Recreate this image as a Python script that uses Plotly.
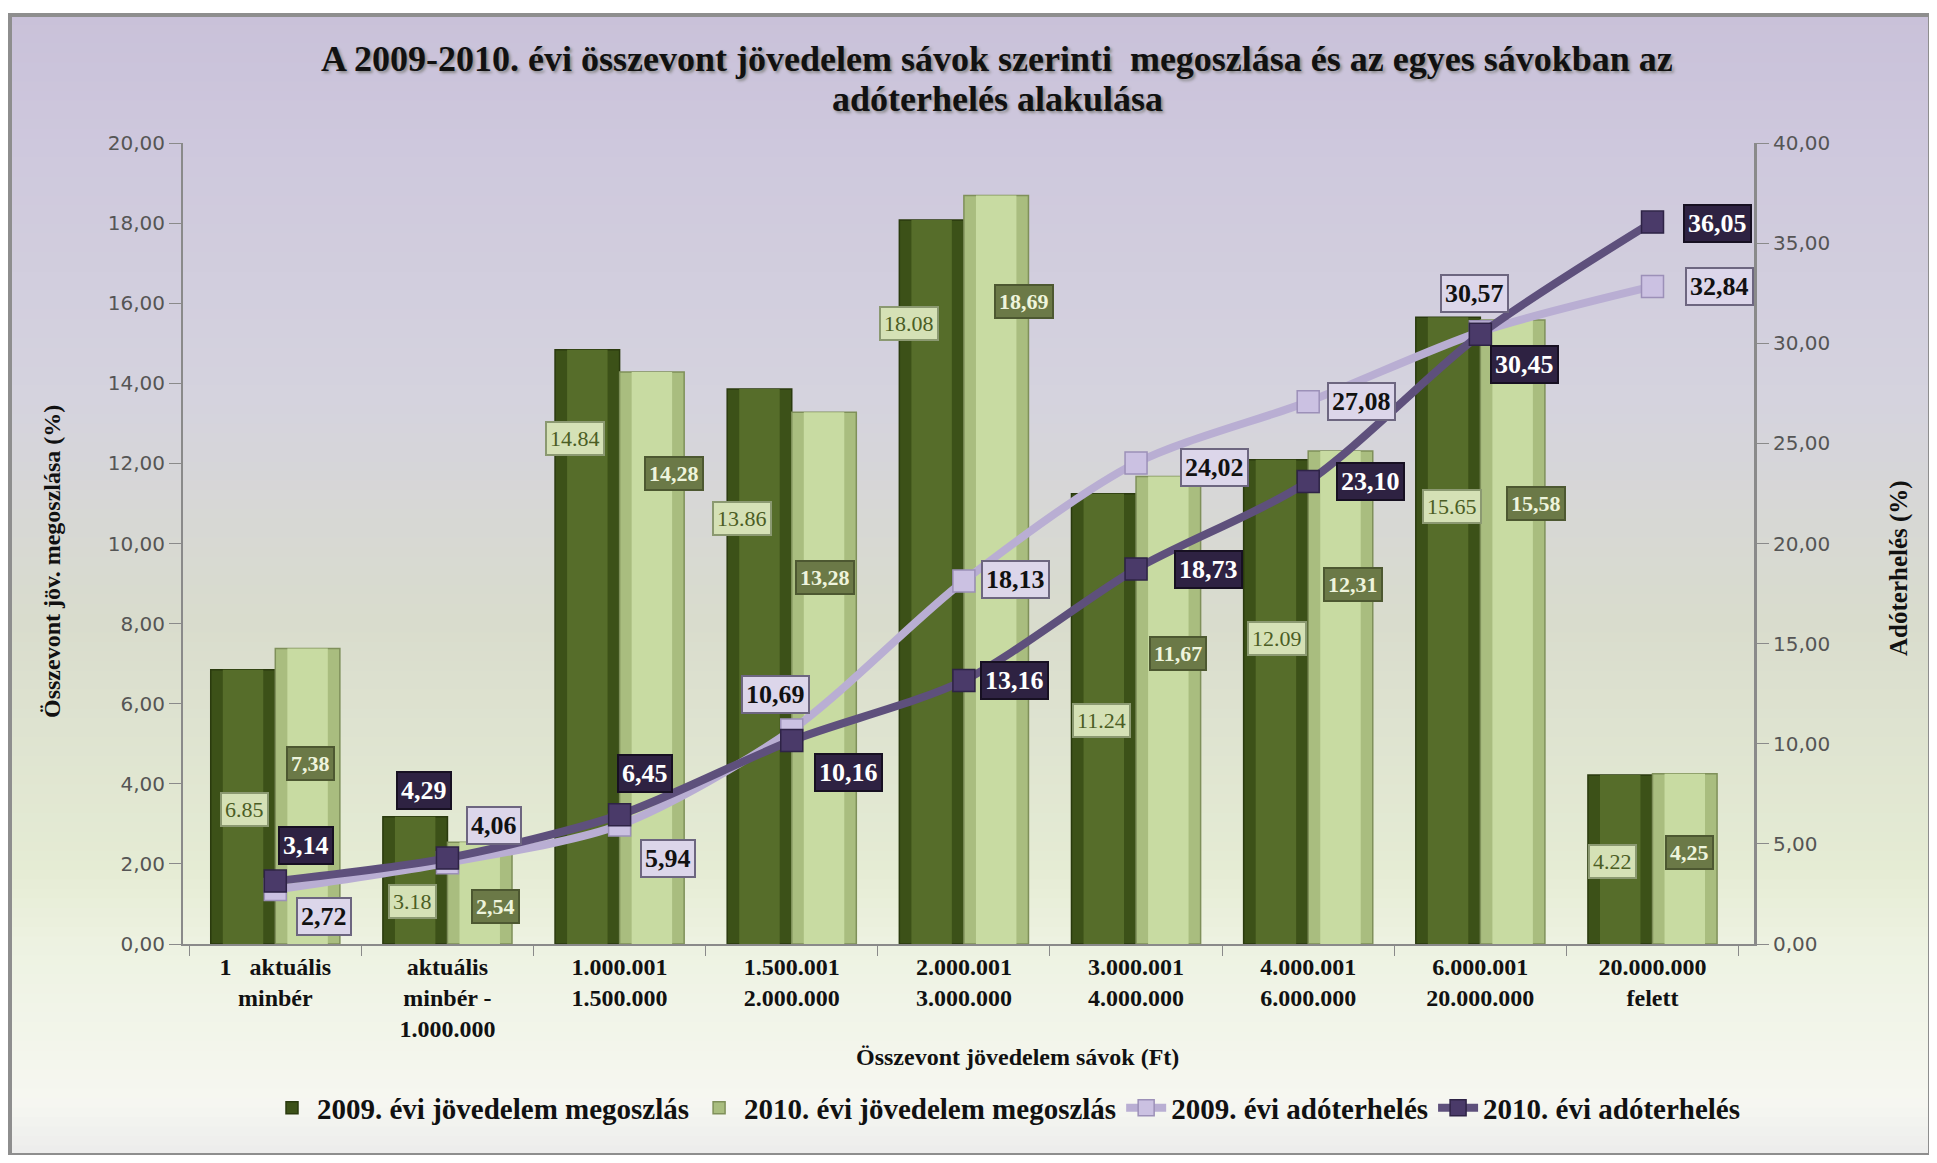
import plotly.graph_objects as go

# -------------------------------------------------------------
# Adatok
# -------------------------------------------------------------
categories = [
    "1\u00a0\u00a0\u00a0aktuális<br>minbér",
    "aktuális<br>minbér -<br>1.000.000",
    "1.000.001<br>1.500.000",
    "1.500.001<br>2.000.000",
    "2.000.001<br>3.000.000",
    "3.000.001<br>4.000.000",
    "4.000.001<br>6.000.000",
    "6.000.001<br>20.000.000",
    "20.000.000<br>felett",
]
income_2009 = [6.85, 3.18, 14.84, 13.86, 18.08, 11.24, 12.09, 15.65, 4.22]
income_2010 = [7.38, 2.54, 14.28, 13.28, 18.69, 11.67, 12.31, 15.58, 4.25]
tax_2009 = [2.72, 4.06, 5.94, 10.69, 18.13, 24.02, 27.08, 30.57, 32.84]
tax_2010 = [3.14, 4.29, 6.45, 10.16, 13.16, 18.73, 23.10, 30.45, 36.05]

left_ticks = [0, 2, 4, 6, 8, 10, 12, 14, 16, 18, 20]
right_ticks = [0, 5, 10, 15, 20, 25, 30, 35, 40]

title_lines = [
    "A 2009-2010. évi összevont jövedelem sávok szerinti \u00a0megoszlása és az egyes sávokban az",
    "adóterhelés alakulása",
]

# címkék elhelyezése (stílus, nem adat)
lbl09_y = [3.36, 1.05, 12.62, 10.62, 15.49, 5.59, 7.62, 10.93, 2.07]
lbl10_y = [4.51, 0.93, 11.76, 9.14, 16.05, 7.25, 8.98, 10.99, 2.28]
lbl09_dx = [2, -2, -12, -17, -22, -2, 2, 4, -7]
lbl10_dx = [2, 15, 22, 1, 27, 9, 12, 23, 4]
tax09_off = [(49, 27), (47, -37), (48, 33), (-16, -35), (52, -1), (78, 4), (53, 0), (-6, -38), (67, 0)]
tax10_off = [(31, -36), (-23, -68), (25, -41), (57, 32), (51, 0), (72, 1), (62, 0), (44, 30), (65, 1)]

SERIF = "Liberation Serif"
SANS = "DejaVu Sans"

# oldal geometria (a body 8px margója miatt)
OFF = 8
W, H = 1937 - 2 * OFF, 1163 - 2 * OFF
PL, PR, PT, PB = 183, 1754, 143, 944   # rajzterület a képen
ML, MT = PL - OFF, PT - OFF
MR, MB = W - (PR - OFF), H - (PB - OFF)
PW, PH = PR - PL, PB - PT
CAT_PX = PW / len(categories)


def px_x(X):
    return (X - PL) / PW


def px_y(Y):
    return (PB - Y) / PH


def fmt(v, sep=","):
    return f"{v:.2f}".replace(".", sep)


def hexmix(c1, c2, t):
    a = [int(c1[i:i + 2], 16) for i in (1, 3, 5)]
    b = [int(c2[i:i + 2], 16) for i in (1, 3, 5)]
    return "#%02x%02x%02x" % tuple(round(a[k] + (b[k] - a[k]) * t) for k in range(3))


fig = go.Figure()

# ------------------------
# Oszlopok (2009, 2010)
# ------------------------
BW = 0.375
fig.add_trace(go.Bar(
    x=categories, y=income_2009, name="<b>2009. évi jövedelem megoszlás</b>",
    offset=-BW, width=BW,
    marker=dict(color="#3c5118", line=dict(color="#2a3a0e", width=1.5)),
))
fig.add_trace(go.Bar(
    x=categories, y=income_2009, showlegend=False, hoverinfo="skip",
    offset=-BW + 0.07, width=BW - 0.14,
    marker=dict(color="#566d2a", line=dict(width=0)),
))
fig.add_trace(go.Bar(
    x=categories, y=income_2010, name="<b>2010. évi jövedelem megoszlás</b>",
    offset=0, width=BW,
    marker=dict(color="#a9bd7f", line=dict(color="#7f905a", width=1.5)),
))
fig.add_trace(go.Bar(
    x=categories, y=income_2010, showlegend=False, hoverinfo="skip",
    offset=0.07, width=BW - 0.14,
    marker=dict(color="#c8dba2", line=dict(width=0)),
))

# ------------------------
# Adóterhelés vonalak
# ------------------------
fig.add_trace(go.Scatter(
    x=categories, y=tax_2009, yaxis="y2", name="<b>2009. évi adóterhelés</b>",
    mode="lines+markers", line=dict(color="#b9aed3", width=8, shape="spline", smoothing=0.8),
    marker=dict(symbol="square", size=22, color="#cbc1e2", line=dict(color="#9c90b8", width=1.5)),
))
fig.add_trace(go.Scatter(
    x=categories, y=tax_2010, yaxis="y2", name="<b>2010. évi adóterhelés</b>",
    mode="lines+markers", line=dict(color="#5e507c", width=8, shape="spline", smoothing=0.8),
    marker=dict(symbol="square", size=22, color="#4a3a69", line=dict(color="#2e2346", width=1.5)),
))

# ------------------------
# Adatcímkék
# ------------------------
ann = []
for i, c in enumerate(categories):
    ann.append(dict(
        x=c, y=lbl09_y[i], xref="x", yref="y", showarrow=False,
        xshift=-BW / 2 * CAT_PX + lbl09_dx[i],
        text=fmt(income_2009[i], "."),
        font=dict(family=SERIF, size=22, color="#4b5d24"),
        bgcolor="#d5e1b6", bordercolor="#8b9971", borderwidth=2, borderpad=3,
    ))
    ann.append(dict(
        x=c, y=lbl10_y[i], xref="x", yref="y", showarrow=False,
        xshift=BW / 2 * CAT_PX + lbl10_dx[i],
        text="<b>" + fmt(income_2010[i]) + "</b>",
        font=dict(family=SERIF, size=22, color="#eef4dc"),
        bgcolor="#6b7947", bordercolor="#4d5831", borderwidth=2, borderpad=3,
    ))
    ann.append(dict(
        x=c, y=tax_2009[i], xref="x", yref="y2", showarrow=False,
        xshift=tax09_off[i][0], yshift=-tax09_off[i][1],
        text="<b>" + fmt(tax_2009[i]) + "</b>",
        font=dict(family=SERIF, size=26, color="#111111"),
        bgcolor="#dcd6ea", bordercolor="#6d6680", borderwidth=2, borderpad=3,
    ))
    ann.append(dict(
        x=c, y=tax_2010[i], xref="x", yref="y2", showarrow=False,
        xshift=tax10_off[i][0], yshift=-tax10_off[i][1],
        text="<b>" + fmt(tax_2010[i]) + "</b>",
        font=dict(family=SERIF, size=26, color="#ffffff"),
        bgcolor="#2e2242", bordercolor="#171022", borderwidth=2, borderpad=3,
    ))

# cím (két sor külön, a sortávolság miatt)
for line, yy in zip(title_lines, [59, 99]):
    ann.append(dict(
        x=px_x(997), y=px_y(yy), xref="paper", yref="paper", showarrow=False,
        xanchor="center", yanchor="middle",
        text="<b>" + line + "</b>",
        font=dict(family=SERIF, size=36, color="#111111", shadow="2px 2px 3px #8a8a8a"),
    ))

# tengelycímek
ann.append(dict(
    x=px_x(52), y=px_y(562), xref="paper", yref="paper", showarrow=False, textangle=-90,
    xanchor="center", yanchor="middle",
    text="<b>Összevont jöv. megoszlása (%)</b>", font=dict(family=SERIF, size=24, color="#111111"),
))
ann.append(dict(
    x=px_x(1899), y=px_y(568), xref="paper", yref="paper", showarrow=False, textangle=-90,
    xanchor="center", yanchor="middle",
    text="<b>Adóterhelés (%)</b>", font=dict(family=SERIF, size=25, color="#111111"),
))
ann.append(dict(
    x=px_x(1017), y=px_y(1057), xref="paper", yref="paper", showarrow=False,
    xanchor="center", yanchor="middle",
    text="<b>Összevont jövedelem sávok (Ft)</b>", font=dict(family=SERIF, size=24, color="#111111"),
))

# ------------------------
# Háttér színátmenet + keret
# ------------------------
stops = [(15, "#c9c1d9"), (143, "#cec8dd"), (400, "#d5d3de"), (620, "#d9dccd"),
         (870, "#e5ecd4"), (944, "#edf2e1"), (1100, "#f6f7f1"), (1155, "#ececec")]
shapes = []
N = 120
y0, y1 = stops[0][0], stops[-1][0]
for k in range(N):
    ya = y0 + (y1 - y0) * k / N
    yb = y0 + (y1 - y0) * (k + 1) / N
    ym = (ya + yb) / 2
    for j in range(len(stops) - 1):
        if stops[j][0] <= ym <= stops[j + 1][0]:
            t = (ym - stops[j][0]) / (stops[j + 1][0] - stops[j][0])
            col = hexmix(stops[j][1], stops[j + 1][1], t)
            break
    shapes.append(dict(
        type="rect", xref="paper", yref="paper", layer="below",
        x0=px_x(10), x1=px_x(1930), y0=px_y(yb + 0.6), y1=px_y(ya),
        fillcolor=col, line=dict(width=0),
    ))
shapes.append(dict(
    type="rect", xref="paper", yref="paper", layer="below",
    x0=px_x(10), x1=px_x(1930), y0=px_y(1155), y1=px_y(15),
    fillcolor="rgba(0,0,0,0)", line=dict(color="#8e8e8e", width=4),
))

fig.update_layout(
    width=W, height=H,
    margin=dict(l=ML, r=MR, t=MT, b=MB, autoexpand=False),
    paper_bgcolor="#ffffff",
    plot_bgcolor="rgba(0,0,0,0)",
    barmode="overlay",
    xaxis=dict(
        type="category", showgrid=False, showline=True, linecolor="#8a8a8a", linewidth=2,
        ticks="outside", tickson="boundaries", ticklen=10, tickcolor="#8a8a8a",
        tickfont=dict(family=SERIF, size=24, color="#111111"),
        tickprefix="<b>", ticksuffix="</b>",
    ),
    yaxis=dict(
        range=[0, 20], tickvals=left_ticks, ticktext=[fmt(v) for v in left_ticks],
        showgrid=False, showline=True, linecolor="#8a8a8a", linewidth=2, zeroline=False,
        ticks="outside", ticklen=12, tickcolor="#8a8a8a",
        tickfont=dict(family=SANS, size=20, color="#555555"),
    ),
    yaxis2=dict(
        range=[0, 40], tickvals=right_ticks, ticktext=[fmt(v) for v in right_ticks],
        overlaying="y", side="right", showgrid=False, showline=True, linecolor="#8a8a8a",
        linewidth=3, zeroline=False, ticks="outside", ticklen=12, tickcolor="#8a8a8a",
        tickfont=dict(family=SANS, size=20, color="#555555"),
    ),
    legend=dict(
        orientation="h", x=px_x(1006), xanchor="center", y=px_y(1108), yanchor="middle",
        font=dict(family=SERIF, size=29, color="#111111"), bgcolor="rgba(0,0,0,0)",
        itemwidth=40, traceorder="normal",
    ),
    annotations=ann,
    shapes=shapes,
    showlegend=True,
)

fig.write_html("out.html")
